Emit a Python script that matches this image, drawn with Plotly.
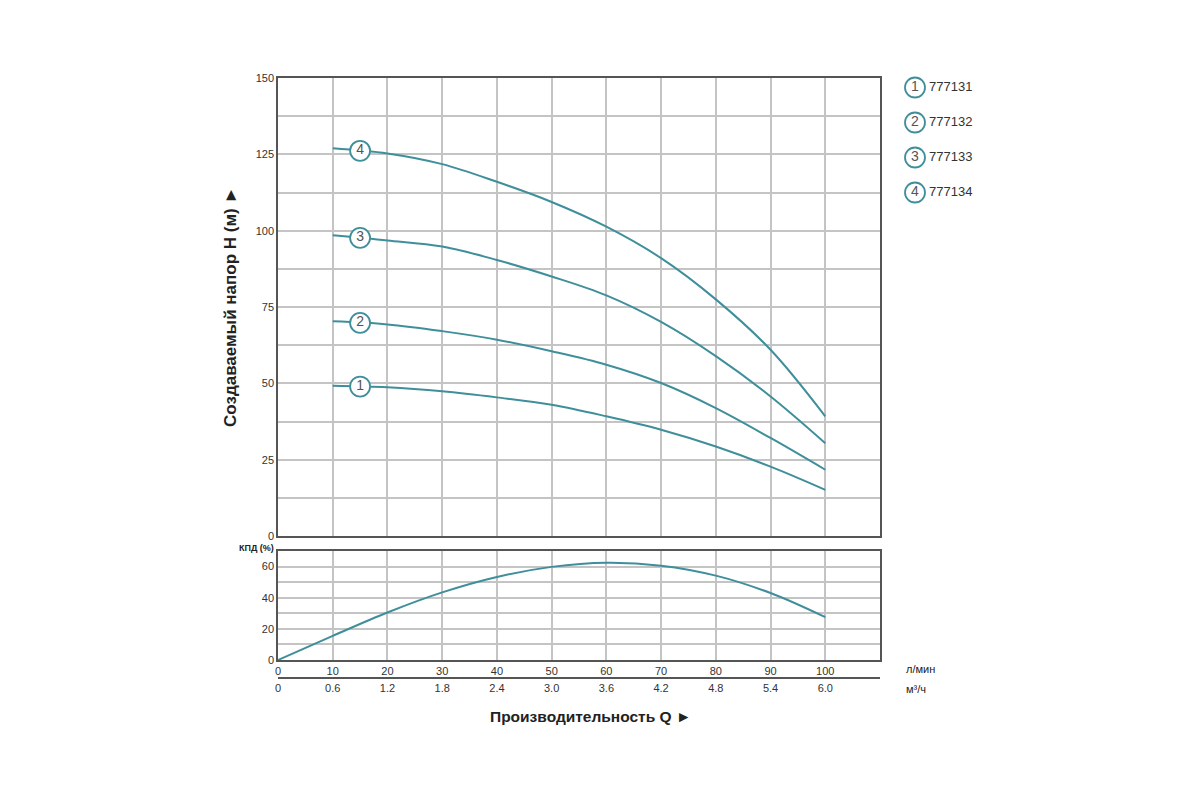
import numpy as np
import plotly.graph_objects as go

# flow, l/min
q_lpm = [10, 20, 30, 40, 50, 60, 70, 80, 90, 100]
# head curves, m
head_1 = [49.2, 48.7, 47.4, 45.4, 43.0, 39.2, 34.8, 29.3, 22.7, 15.1]
head_2 = [70.3, 69.3, 67.1, 64.3, 60.5, 56.1, 50.1, 41.9, 32.1, 21.7]
head_3 = [98.5, 96.8, 94.8, 90.4, 85.0, 78.8, 70.1, 58.9, 45.7, 30.4]
head_4 = [127.0, 125.3, 121.8, 116.0, 109.4, 101.3, 91.0, 77.5, 61.0, 39.2]

# efficiency curve
q_eff = [0, 10, 20, 30, 40, 50, 60, 70, 80, 90, 100]
efficiency = [0, 15.5, 30.5, 43.4, 53.3, 59.8, 62.5, 60.6, 54.2, 43.0, 27.5]

models = ["777131", "777132", "777133", "777134"]
curve_labels = ["1", "2", "3", "4"]
label_q = 15

q_ticks = [0, 10, 20, 30, 40, 50, 60, 70, 80, 90, 100]
m3h_ticks = ["0", "0.6", "1.2", "1.8", "2.4", "3.0", "3.6", "4.2", "4.8", "5.4", "6.0"]
h_ticks = [0, 12.5, 25, 37.5, 50, 62.5, 75, 87.5, 100, 112.5, 125, 137.5, 150]
eff_ticks = [0, 10, 20, 30, 40, 50, 60, 70]

teal = "#3f8f9b"
grid = "#c4c4c4"
border = "#555555"
font = "Liberation Sans, Arial, sans-serif"


# page pixels -> paper fractions (page body has an 8px margin)
def px(x):
    return (x - 8) / 1200


def py(y):
    return 1 - (y - 8) / 800


fig = go.Figure()

heads = [head_1, head_2, head_3, head_4]
for h in heads:
    fig.add_trace(go.Scatter(x=q_lpm, y=h, mode="lines", line=dict(color=teal, width=2, shape="spline"),
                             xaxis="x", yaxis="y", showlegend=False, hoverinfo="skip"))

# circled numbers on curves
fig.add_trace(go.Scatter(
    x=[label_q] * 4,
    y=[float(np.interp(label_q, q_lpm, h)) for h in heads],
    mode="markers+text", text=curve_labels, textposition="middle center",
    textfont=dict(family=font, size=14, color="#555"),
    marker=dict(size=20, color="white", line=dict(color=teal, width=1.8)),
    xaxis="x", yaxis="y", showlegend=False, hoverinfo="skip"))

fig.add_trace(go.Scatter(x=q_eff, y=efficiency, mode="lines", line=dict(color=teal, width=2, shape="spline"),
                         xaxis="x2", yaxis="y2", showlegend=False, hoverinfo="skip"))
# invisible carrier for the m3/h axis
fig.add_trace(go.Scatter(x=q_eff, y=efficiency, mode="lines", line=dict(width=0), opacity=0,
                         xaxis="x3", yaxis="y2", showlegend=False, hoverinfo="skip"))

# legend at the right
fig.add_trace(go.Scatter(x=[1.5] * 4, y=[1, 2, 3, 4], mode="markers+text", text=curve_labels,
                         textposition="middle center", textfont=dict(family=font, size=14, color="#555"),
                         marker=dict(size=20, color="white", line=dict(color=teal, width=1.8)),
                         xaxis="x4", yaxis="y4", showlegend=False, hoverinfo="skip"))
fig.add_trace(go.Scatter(x=[2.9] * 4, y=[1, 2, 3, 4], mode="text", text=models,
                         textposition="middle right", textfont=dict(family=font, size=13, color="#333"),
                         xaxis="x4", yaxis="y4", showlegend=False, hoverinfo="skip"))

xdom = [px(278), px(880)]
axis_common = dict(showline=True, linecolor=border, linewidth=1.5, mirror=True, automargin=False,
                   gridcolor=grid, gridwidth=1.5, zeroline=False, ticks="",
                   tickfont=dict(family=font, size=11, color="#333"))


def note(text, x, y, size, xanchor="center", angle=0):
    return dict(text=text, x=px(x), y=py(y), xref="paper", yref="paper", showarrow=False,
                xanchor=xanchor, yanchor="middle", textangle=angle,
                font=dict(family=font, size=size, color="#222"))


fig.update_layout(
    width=1200, height=800,
    margin=dict(l=0, r=0, t=0, b=0, pad=0),
    paper_bgcolor="white", plot_bgcolor="white",
    xaxis=dict(domain=xdom, range=[0, 110], tickvals=list(range(0, 111, 10)), showticklabels=False,
               anchor="y", **axis_common),
    yaxis=dict(domain=[py(536), py(78)], range=[0, 150], tickvals=h_ticks,
               ticktext=[str(int(v)) if v % 25 == 0 else "" for v in h_ticks], anchor="x", **axis_common),
    xaxis2=dict(domain=xdom, range=[0, 110], tickvals=q_ticks, ticktext=[str(v) for v in q_ticks],
                anchor="y2", **axis_common),
    yaxis2=dict(domain=[py(660), py(551)], range=[0, 70], tickvals=eff_ticks,
                ticktext=[str(v) if v % 20 == 0 and v < 70 else "" for v in eff_ticks], anchor="x2", **axis_common),
    xaxis3=dict(overlaying="x2", anchor="free", position=py(678), range=[0, 110],
                tickvals=q_ticks, ticktext=m3h_ticks, showline=True, linecolor=border, linewidth=1.5,
                showgrid=False, zeroline=False, ticks="", side="bottom", automargin=False,
                tickfont=dict(family=font, size=11, color="#333")),
    xaxis4=dict(domain=[px(900), px(1000)], range=[0, 10], visible=False, anchor="y4", automargin=False),
    yaxis4=dict(domain=[py(210), py(70)], range=[4.5, 0.5], visible=False, anchor="x4", automargin=False),
    annotations=[
        note("<b>Создаваемый напор H (м) ►</b>", 230, 307, 17, angle=-90),
        note("<b>Производительность Q ►</b>", 590, 716, 15.5),
        note("<b>КПД (%)</b>", 276, 548, 9, xanchor="right"),
        note("л/мин", 904, 669, 11, xanchor="left"),
        note("м³/ч", 904, 689, 11, xanchor="left"),
    ],
)

fig.write_html("out.html")
